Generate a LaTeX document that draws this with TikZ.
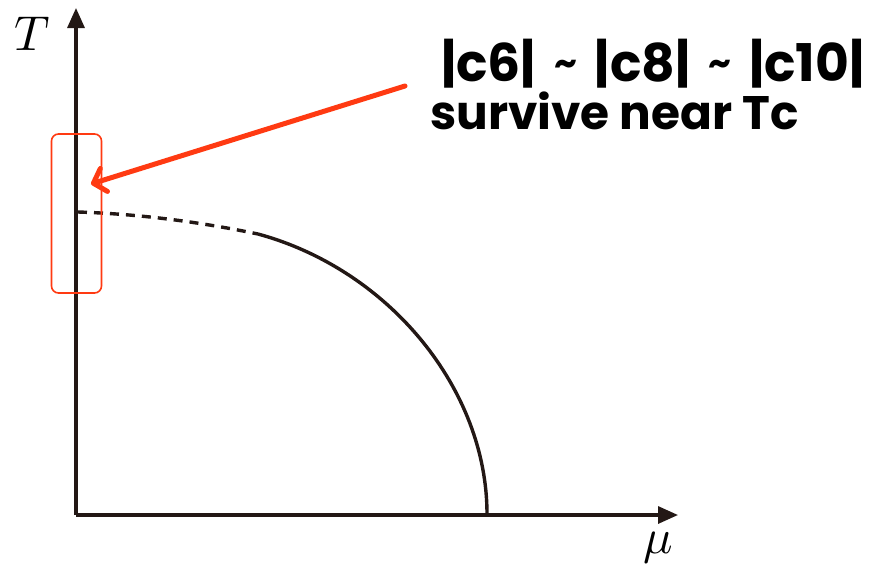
\documentclass[tikz,border=0pt]{standalone}
\usepackage{fontspec}
\newfontfamily\labelfont{Poppins}[UprightFont=* Bold]
\usetikzlibrary{arrows.meta}
\definecolor{axisblack}{HTML}{231815}
\definecolor{hlred}{HTML}{FF3A12}
\newcommand{\tildesep}{\hspace{18pt}\raisebox{6pt}{\fontsize{36}{36}\selectfont\char`\~}\hspace{18pt}}
\begin{document}
\begin{tikzpicture}[x=1pt,y=1pt,
  axis/.style={draw=axisblack,line width=3.2pt,-{Triangle[length=20pt,width=17pt]}},
  curve/.style={draw=axisblack,line width=3.4pt},
  dashcurve/.style={curve,dash pattern=on 9pt off 7pt},
  hlbox/.style={draw=hlred,line width=1.6pt,rounded corners=7pt},
  hlarrow/.style={draw=hlred,line width=5pt,line cap=round,-{Straight Barb[length=11pt,width=24pt,line cap=round,line join=round]}},
  annot/.style={text=black,inner sep=0pt,anchor=base west}]
\useasboundingbox (0,0) rectangle (875,-573);
% axes
\coordinate (O) at (76,-515);
\coordinate (ytip) at (76,-8);
\coordinate (xtip) at (678,-515);
\draw[axis] (O) -- (ytip);
\draw[axis] (O) -- (xtip);
\node (Tlab) at (32,-34) {\scalebox{4.9}{$T$}};
\node (mulab) at (658,-548) {\scalebox{4.9}{$\mu$}};
% critical line
\coordinate (c0) at (78,-212);
\coordinate (c1) at (258,-234);
\coordinate (c2) at (487,-514);
\draw[dashcurve] (c0) .. controls (140,-214) and (200,-222) .. (c1);
\draw[curve] (c1) .. controls (390,-270) and (487,-390) .. (c2);
% highlight box
\node[hlbox,minimum width=50pt,minimum height=159pt,inner sep=0pt] (box) at (76.5,-213.5) {};
% annotation
\node[annot,font=\labelfont\fontsize{52}{60}\selectfont] (l1) at (441,-81) {|c6|\tildesep|c8|\tildesep|c10|};
\node[annot,font=\labelfont\fontsize{47}{54}\selectfont] (l2) at (430,-129) {survive near Tc};
\coordinate (astart) at (405,-86);
\coordinate (aend) at (91,-184);
\draw[hlarrow] (astart) -- (aend);
\end{tikzpicture}
\end{document}
